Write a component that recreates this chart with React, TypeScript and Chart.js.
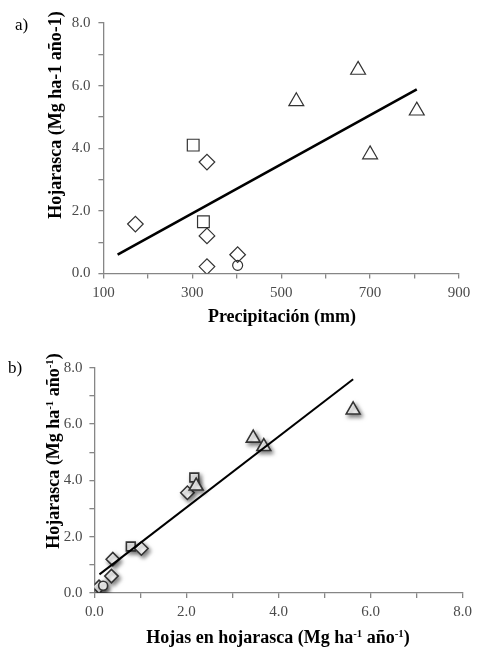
import React, { useEffect, useRef } from 'react';
import { Chart, registerables } from 'chart.js';

Chart.register(...registerables);

// litter (Hojarasca) per site group, shared by both panels
const hojarascaDiamonds = [1.58, 3.56, 1.2, 0.22, 0.6];
const hojarascaSquares = [4.1, 1.65];
const hojarascaCircles = [0.26];
const hojarascaTriangles = [5.5, 6.5, 3.8, 5.2];

// panel a) precipitation (mm)
const precipDiamonds = [172, 333, 333, 333, 402];
const precipSquares = [302, 325];
const precipCircles = [402];
const precipTriangles = [534, 673, 700, 805];

// panel b) leaves in litter
const hojasDiamonds = [1.02, 2.02, 0.4, 0.1, 0.37];
const hojasSquares = [2.17, 0.79];
const hojasCircles = [0.19];
const hojasTriangles = [3.45, 5.62, 2.21, 3.68];

// regression lines (end points)
const trendPrecipX = [132, 805];
const trendPrecipY = [0.6, 5.88];
const trendHojasX = [0.11, 5.62];
const trendHojasY = [0.66, 7.59];

const precipTicks = ['100', '300', '500', '700', '900'];
const hojasTicks = ['0.0', '2.0', '4.0', '6.0', '8.0'];
const hojarascaTicks = ['0.0', '2.0', '4.0', '6.0', '8.0'];

const SERIF = "'Liberation Serif', 'Times New Roman', serif";
const AXIS = '#868686';
const TICK_TEXT = '#4a4a4a';
const MARK = '#333333';

const pts = (xs: number[], ys: number[]) => xs.map((x, i) => ({ x, y: ys[i] }));

type PanelProps = {
  height: number;
  xs: number[][];
  trendX: number[];
  trendY: number[];
  xMin: number;
  xMax: number;
  xStep: number;
  xLabels: string[];
  radii: number[];
  markWidth: number;
  lineWidth: number;
  fill: string;
  shadow: boolean;
  yWidth: number;
  xHeight: number;
  padTop: number;
  padRight: number;
  yPad: number;
  xPad: number;
};

// soft drop shadow under the markers of panel b)
const shadowPlugin = {
  id: 'markShadow',
  beforeDatasetDraw(chart: any, args: any, opts: any) {
    if (!opts.on || chart.data.datasets[args.index].showLine) return;
    const ctx = chart.ctx;
    ctx.save();
    ctx.shadowColor = 'rgba(0,0,0,0.5)';
    ctx.shadowBlur = 4;
    ctx.shadowOffsetX = 2;
    ctx.shadowOffsetY = 2.5;
  },
  afterDatasetDraw(chart: any, args: any, opts: any) {
    if (!opts.on || chart.data.datasets[args.index].showLine) return;
    chart.ctx.restore();
  }
};

function Panel(p: PanelProps) {
  const canvasRef = useRef<HTMLCanvasElement>(null);
  const chartRef = useRef<Chart | null>(null);

  useEffect(() => {
    if (!canvasRef.current) return;
    const ctx = canvasRef.current.getContext('2d');
    if (!ctx) return;
    if (chartRef.current) chartRef.current.destroy();

    const mark = (data: { x: number; y: number }[], style: string, r: number) => ({
      data,
      pointStyle: style,
      pointRadius: r,
      pointHoverRadius: r,
      pointBorderWidth: p.markWidth,
      pointBorderColor: MARK,
      pointBackgroundColor: p.fill,
      showLine: false
    });

    chartRef.current = new Chart(ctx, {
      type: 'scatter',
      data: {
        datasets: [
          {
            data: pts(p.trendX, p.trendY),
            showLine: true,
            borderColor: '#000',
            borderWidth: p.lineWidth,
            pointRadius: 0,
            pointHoverRadius: 0
          },
          mark(pts(p.xs[3], hojarascaTriangles), 'triangle', p.radii[3]),
          mark(pts(p.xs[2], hojarascaCircles), 'circle', p.radii[2]),
          mark(pts(p.xs[0], hojarascaDiamonds), 'rectRot', p.radii[0]),
          mark(pts(p.xs[1], hojarascaSquares), 'rect', p.radii[1])
        ] as any
      },
      options: {
        responsive: true,
        maintainAspectRatio: false,
        animation: false,
        layout: { padding: { top: p.padTop, right: p.padRight, left: 0, bottom: 0 } },
        scales: {
          x: {
            type: 'linear',
            min: p.xMin,
            max: p.xMax,
            afterFit: (s: any) => { s.height = p.xHeight; },
            border: { color: AXIS, width: 1.3 },
            grid: { drawOnChartArea: false, drawTicks: true, tickLength: 5, color: AXIS, lineWidth: 1.3 },
            ticks: {
              stepSize: p.xStep,
              autoSkip: false,
              maxRotation: 0,
              padding: p.xPad,
              color: TICK_TEXT,
              font: { size: 15, family: SERIF },
              callback: (_v: any, i: number) => (i % 2 === 0 ? p.xLabels[i / 2] : '')
            }
          },
          y: {
            type: 'linear',
            min: 0,
            max: 8,
            afterFit: (s: any) => { s.width = p.yWidth; },
            border: { color: AXIS, width: 1.3 },
            grid: { drawOnChartArea: false, drawTicks: true, tickLength: 5, color: AXIS, lineWidth: 1.3 },
            ticks: {
              stepSize: 1,
              autoSkip: false,
              padding: p.yPad,
              color: TICK_TEXT,
              font: { size: 15, family: SERIF },
              callback: (_v: any, i: number) => (i % 2 === 0 ? hojarascaTicks[i / 2] : '')
            }
          }
        },
        plugins: {
          legend: { display: false },
          tooltip: { enabled: false },
          markShadow: { on: p.shadow }
        } as any
      },
      plugins: [shadowPlugin]
    });

    return () => {
      if (chartRef.current) chartRef.current.destroy();
      chartRef.current = null;
    };
  }, []);

  return (
    <div style={{ position: 'relative', width: '478px', height: p.height + 'px' }}>
      <canvas ref={canvasRef} />
    </div>
  );
}

const titleStyle: React.CSSProperties = {
  position: 'absolute',
  fontFamily: SERIF,
  fontWeight: 'bold',
  fontSize: '18px',
  color: '#000',
  whiteSpace: 'nowrap',
  lineHeight: 1
};

const supStyle: React.CSSProperties = { fontSize: '0.6em', verticalAlign: '0.55em', lineHeight: 0 };

export default function App() {
  return (
    <div style={{ position: 'absolute', left: 0, top: 0, width: '478px', height: '650px', background: '#fff' }}>
      <div style={{ position: 'absolute', left: 0, top: 0 }}>
        <Panel
          height={330}
          xs={[precipDiamonds, precipSquares, precipCircles, precipTriangles]}
          trendX={trendPrecipX}
          trendY={trendPrecipY}
          xMin={100}
          xMax={900}
          xStep={100}
          xLabels={precipTicks}
          radii={[7.8, 8.3, 5, 8.6]}
          markWidth={1.2}
          lineWidth={2.6}
          fill="rgba(255,255,255,0)"
          shadow={false}
          yWidth={103.4}
          xHeight={56.5}
          padTop={23}
          padRight={19}
          yPad={8}
          xPad={6}
        />
      </div>
      <div style={{ position: 'absolute', left: 0, top: '330px' }}>
        <Panel
          height={320}
          xs={[hojasDiamonds, hojasSquares, hojasCircles, hojasTriangles]}
          trendX={trendHojasX}
          trendY={trendHojasY}
          xMin={0}
          xMax={8}
          xStep={1}
          xLabels={hojasTicks}
          radii={[6.7, 6.2, 4.5, 8]}
          markWidth={1.6}
          lineWidth={2}
          fill="#ffffff"
          shadow={true}
          yWidth={94.4}
          xHeight={57}
          padTop={37.7}
          padRight={15.3}
          yPad={7}
          xPad={5}
        />
      </div>

      <div style={{ position: 'absolute', left: '15px', top: '16px', fontFamily: SERIF, fontSize: '17px', lineHeight: 1 }}>a)</div>
      <div style={{ position: 'absolute', left: '8px', top: '359px', fontFamily: SERIF, fontSize: '17px', lineHeight: 1 }}>b)</div>

      <div style={{ ...titleStyle, left: '55px', top: '115px', transform: 'translate(-50%, -50%) rotate(-90deg)' }}>
        Hojarasca (Mg ha-1 año-1)
      </div>
      <div style={{ ...titleStyle, left: '282px', top: '316px', transform: 'translate(-50%, -50%)' }}>
        Precipitación (mm)
      </div>

      <div style={{ ...titleStyle, left: '53px', top: '451px', transform: 'translate(-50%, -50%) rotate(-90deg)' }}>
        Hojarasca (Mg ha<span style={supStyle}>-1</span> año<span style={supStyle}>-1</span>)
      </div>
      <div style={{ ...titleStyle, left: '278px', top: '637px', transform: 'translate(-50%, -50%)' }}>
        Hojas en hojarasca (Mg ha<span style={supStyle}>-1</span> año<span style={supStyle}>-1</span>)
      </div>
    </div>
  );
}
